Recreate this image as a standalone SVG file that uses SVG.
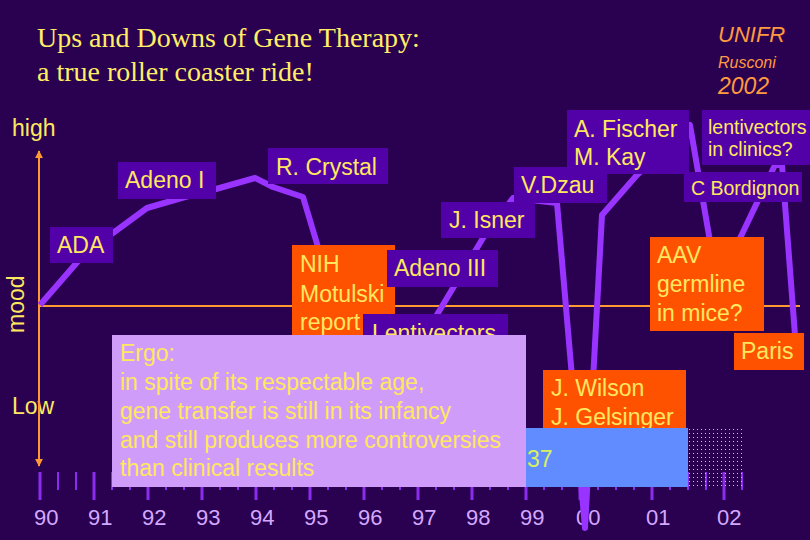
<svg xmlns="http://www.w3.org/2000/svg" width="810" height="540" viewBox="0 0 810 540">
<defs>
<style>
.t{font-family:"Liberation Sans",Arial,sans-serif;font-size:23px;fill:#ffe860}
.s{font-size:19.5px}
.box{fill:#5200a8}
.org{fill:#ff5200}
.yr{font-family:"Liberation Sans",Arial,sans-serif;font-size:22px;fill:#d4a8ff}
.title{font-family:"Liberation Serif","Times New Roman",serif;font-size:28px;fill:#ffee66}
.sig{font-family:"Liberation Sans",Arial,sans-serif;font-style:italic;fill:#ff9a40}
.tk{stroke:#8c2cf0;stroke-width:2}
.tkM{stroke:#8c2cf0;stroke-width:3}
</style>
<marker id="ah" viewBox="0 0 10 10" refX="9" refY="5" markerWidth="4" markerHeight="4" orient="auto-start-reverse" markerUnits="strokeWidth">
<path d="M0,0 L10,5 L0,10 z" fill="#ff9933"/>
</marker>
<pattern id="dots" width="4" height="4" patternUnits="userSpaceOnUse">
<rect x="1" y="1" width="1" height="1" fill="#c8c0ff"/>
</pattern>
</defs>
<rect width="810" height="540" fill="#2a0050"/>

<g id="title">
<text class="title" x="37" y="47">Ups and Downs of Gene Therapy:</text>
<text class="title" x="37" y="81">a true roller coaster ride!</text>
</g>
<g id="signature">
<text class="sig" x="718" y="42" font-size="22">UNIFR</text>
<text class="sig" x="718" y="68" font-size="16">Rusconi</text>
<text class="sig" x="718" y="94" font-size="23">2002</text>
</g>

<g id="axis-labels">
<text class="t" x="12" y="136" font-size="22">high</text>
<text class="t" x="12" y="414" font-size="22">Low</text>
<text class="t" font-size="22" transform="translate(24,333) rotate(-90)">mood</text>
</g>

<g id="ticks">
<path class="tk" d="M58,472V490M76,472V490M112,472V490M130,472V490M166,472V490M184,472V490M220,472V490M238,472V490M274,472V490M292,472V490M328,472V490M346,472V490M382,472V490M400,472V490M436,472V490M454,472V490M490,472V490M508,472V490M544,472V490M562,472V490M598,472V490M616,472V490M634,472V490M670,472V490M688,472V490M706,472V490M742,472V490"/>
<path class="tkM" d="M40,472V500M94,472V500M148,472V500M202,472V500M256,472V500M310,472V500M364,472V500M418,472V500M472,472V500M526,472V500M580,472V500M652,472V500M724,472V500"/>
</g>
<g id="years">
<text class="yr" x="34" y="525">90</text>
<text class="yr" x="88" y="525">91</text>
<text class="yr" x="142" y="525">92</text>
<text class="yr" x="196" y="525">93</text>
<text class="yr" x="250" y="525">94</text>
<text class="yr" x="304" y="525">95</text>
<text class="yr" x="358" y="525">96</text>
<text class="yr" x="412" y="525">97</text>
<text class="yr" x="466" y="525">98</text>
<text class="yr" x="520" y="525">99</text>
<text class="yr" x="576" y="525">00</text>
<text class="yr" x="646" y="525">01</text>
<text class="yr" x="717" y="525">02</text>
</g>

<g id="connectors">
<line x1="39" y1="305" x2="39" y2="151" stroke="#ff9933" stroke-width="2" marker-end="url(#ah)"/>
<line x1="39" y1="305" x2="39" y2="466" stroke="#ff9933" stroke-width="2" marker-end="url(#ah)"/>
<line x1="39" y1="306" x2="800" y2="306" stroke="#ff9933" stroke-width="2"/>
<polyline fill="none" stroke="#9933ff" stroke-width="6" stroke-linejoin="round" points="40,305 80,259 113,233 147,208 185,197 216,189 255,178 273,187 303,197 318,247 360,380 400,376 438,313 483,238 513,198 557,203 585,528 602,215 637,175 690,125 712,253 733,253 775,165 782,165 795,335"/>
</g>

<g id="ada"><rect class="box" x="50" y="227" width="63" height="36"/><text class="t" x="57" y="253">ADA</text></g>
<g id="adeno1"><rect class="box" x="118" y="162" width="98" height="37"/><text class="t" x="125" y="188">Adeno I</text></g>
<g id="crystal"><rect class="box" x="268" y="148" width="120" height="36"/><text class="t" x="276" y="175">R. Crystal</text></g>
<g id="isner"><rect class="box" x="441" y="202" width="94" height="36"/><text class="t" x="449" y="228">J. Isner</text></g>
<g id="dzau"><rect class="box" x="514" y="167" width="93" height="36"/><text class="t" x="521" y="193">V.Dzau</text></g>
<g id="fischer"><rect class="box" x="567" y="110" width="122" height="64"/><text class="t" x="574" y="137">A. Fischer</text><text class="t" x="574" y="165">M. Kay</text></g>
<g id="lentiClinics"><rect class="box" x="702" y="110" width="108" height="55"/><text class="t s" x="708" y="134">lentivectors</text><text class="t s" x="708" y="156">in clinics?</text></g>
<g id="bordignon"><rect class="box" x="684" y="172" width="118" height="30"/><text class="t s" x="691" y="195">C Bordignon</text></g>
<g id="aav"><rect class="org" x="650" y="237" width="114" height="94"/><text class="t" x="657" y="263">AAV</text><text class="t" x="657" y="292">germline</text><text class="t" x="657" y="321">in mice?</text></g>
<g id="paris"><rect class="org" x="734" y="333" width="70" height="37"/><text class="t" x="741" y="359">Paris</text></g>
<g id="nih"><rect class="org" x="292" y="245" width="103" height="92"/><text class="t" x="300" y="272">NIH</text><text class="t" x="300" y="302">Motulski</text><text class="t" x="300" y="330">report</text></g>
<g id="adeno3"><rect class="box" x="387" y="250" width="111" height="37"/><text class="t" x="394" y="276">Adeno III</text></g>
<g id="lenti"><rect class="box" x="363" y="314" width="145" height="30"/><text class="t" x="372" y="341">Lentivectors</text></g>
<g id="wilson"><rect class="org" x="543" y="370" width="143" height="60"/><text class="t" x="551" y="396">J. Wilson</text><text class="t" x="551" y="425">J. Gelsinger</text></g>
<g id="trials"><rect x="526" y="428" width="162" height="59" fill="#608cff"/><rect x="688" y="428" width="54" height="59" fill="url(#dots)"/><text class="t" x="527" y="467" fill="#d8f060" style="fill:#d8f060">37</text></g>
<g id="ergo"><rect x="112" y="335" width="414" height="152" fill="#d09cfa"/>
<text class="t" x="120" y="361">Ergo:</text>
<text class="t" x="120" y="390">in spite of its respectable age,</text>
<text class="t" x="120" y="419">gene transfer is still in its infancy</text>
<text class="t" x="120" y="448">and still produces more controversies</text>
<text class="t" x="120" y="476">than clinical results</text>
</g>
</svg>
